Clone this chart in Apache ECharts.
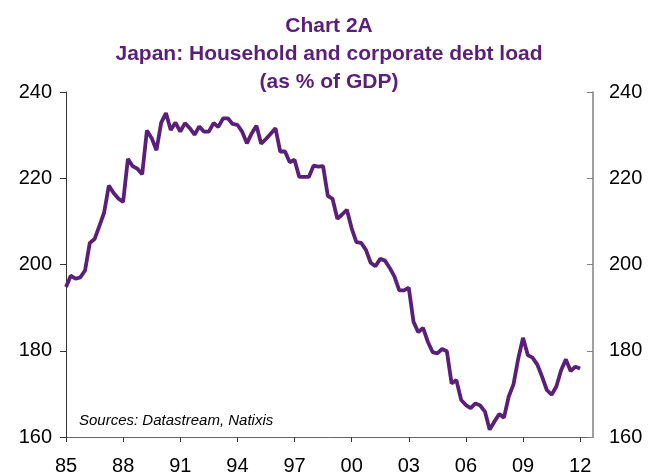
<!DOCTYPE html>
<html>
<head>
<meta charset="utf-8">
<script src="https://cdn.jsdelivr.net/npm/echarts@6/dist/echarts.min.js"></script>
<style>
  html, body { margin: 0; padding: 0; background: #fff; }
  #chart { width: 658px; height: 476px; }
</style>
</head>
<body>
<div id="chart"></div>
<script>
// quarterly, 1985Q1 .. 2012Q1
const quarters = []
for (let y = 1985; y <= 2012; y++) {
  for (let q = 1; q <= 4; q++) quarters.push(y + 'Q' + q)
}
const debtLoad = [
  194.8, 197.4, 196.7, 197.0, 198.6, 205.0, 205.9, 208.9, 212.0, 218.3, 216.6, 215.3,
  214.5, 224.5, 222.8, 222.2, 220.9, 231.1, 229.3, 226.5, 232.9, 235.1, 231.2, 232.9,
  230.8, 232.8, 231.6, 230.1, 232.0, 230.8, 230.8, 232.8, 231.9, 233.9, 233.9, 232.6,
  232.4, 230.8, 228.1, 230.4, 232.2, 228.0, 229.1, 230.3, 231.6, 226.2, 226.2, 223.7,
  224.3, 220.3, 220.3, 220.3, 222.9, 222.7, 222.8, 215.9, 215.2, 210.6, 211.6, 212.7,
  208.4, 205.2, 205.0, 203.4, 200.4, 199.6, 201.3, 200.9, 199.2, 197.2, 194.0, 194.0,
  194.6, 186.7, 184.3, 185.3, 182.1, 179.7, 179.4, 180.4, 179.9, 172.4, 173.2, 168.6,
  167.4, 166.7, 167.8, 167.3, 165.9, 161.7, 163.6, 165.3, 164.5, 169.4, 172.2, 178.2,
  183.0, 179.0, 178.4, 176.8, 174.0, 170.9, 169.8, 171.7, 175.5, 178.0, 175.3, 176.3,
  175.9
]
const yearLabels = ['85', '88', '91', '94', '97', '00', '03', '06', '09', '12']
const yTicks = [160, 180, 200, 220, 240]

const purple = '#5a1f78'
const font = 'Liberation Sans, Arial, sans-serif'

const myChart = echarts.init(document.getElementById('chart'))

const yAxisBase = {
  type: 'value',
  min: yTicks[0],
  max: yTicks[yTicks.length - 1],
  interval: yTicks[1] - yTicks[0],
  splitLine: { show: false },
  axisTick: { show: true, length: 6 },
  axisLabel: { color: '#000', fontSize: 20, fontFamily: font }
}

myChart.setOption({
  animation: false,
  title: {
    text: 'Chart 2A\nJapan: Household and corporate debt load\n(as % of GDP)',
    left: 'center',
    top: 7,
    textStyle: {
      color: purple,
      fontSize: 21,
      fontWeight: 'bold',
      fontFamily: font,
      lineHeight: 28
    }
  },
  grid: { left: 66, right: 65, top: 92, bottom: 37 },
  xAxis: {
    type: 'value',
    min: 0,
    max: 110.7,
    interval: 12,
    splitLine: { show: false },
    axisLine: { lineStyle: { color: '#666', width: 1 } },
    axisTick: { length: 5, lineStyle: { color: '#333' } },
    axisLabel: {
      color: '#000',
      fontSize: 20,
      fontFamily: font,
      margin: 19,
      showMaxLabel: false,
      formatter: v => (v % 12 === 0 ? yearLabels[v / 12] : '')
    }
  },
  yAxis: [
    Object.assign({}, yAxisBase, {
      position: 'left',
      axisLine: { show: true, lineStyle: { color: '#333', width: 1 } },
      axisLabel: Object.assign({}, yAxisBase.axisLabel, { margin: 14 })
    }),
    Object.assign({}, yAxisBase, {
      position: 'right',
      axisLine: { show: true, lineStyle: { color: '#808080', width: 1.5 } },
      axisTick: { show: true, inside: true, length: 6, lineStyle: { color: '#808080' } },
      axisLabel: Object.assign({}, yAxisBase.axisLabel, { margin: 16 })
    })
  ],
  graphic: [{
    type: 'text',
    left: 79,
    top: 413,
    style: {
      text: 'Sources: Datastream, Natixis',
      fill: '#000',
      font: 'italic 15px ' + font
    }
  }],
  series: [{
    name: 'Household and corporate debt',
    type: 'line',
    yAxisIndex: 0,
    data: debtLoad.map((v, i) => [i, v]),
    symbol: 'none',
    lineStyle: { color: purple, width: 3.8 }
  }]
})
</script>
</body>
</html>
